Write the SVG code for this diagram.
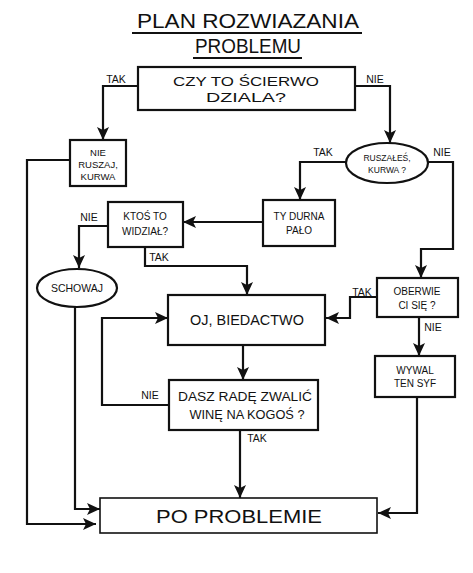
<svg xmlns="http://www.w3.org/2000/svg" width="473" height="573" viewBox="0 0 473 573">
<style>
text{font-family:"Liberation Sans","DejaVu Sans",sans-serif;fill:#111;text-anchor:middle}
.n{font-size:10px}
.lb{font-size:10.5px}
.box{fill:#fff;stroke:#111;stroke-width:2.2}
.c path{fill:none;stroke:#111;stroke-width:2.2;stroke-linejoin:miter}
</style>
<defs>
<marker id="a" markerUnits="userSpaceOnUse" markerWidth="14" markerHeight="12" refX="13" refY="6" orient="auto">
<path d="M0,0 L13,6 L0,12 L3,6 Z" fill="#111"/>
</marker>
</defs>
<rect width="473" height="573" fill="#fff"/>
<g id="title">
<text x="248" y="28" style="font-size:21px" textLength="222" lengthAdjust="spacingAndGlyphs">PLAN ROZWIAZANIA</text>
<path d="M132,33 H362" stroke="#111" stroke-width="1.8"/>
<text x="248" y="53" style="font-size:21px" textLength="106" lengthAdjust="spacingAndGlyphs">PROBLEMU</text>
<path d="M193,58 H302" stroke="#111" stroke-width="1.8"/>
</g>
<g class="c" id="connectors">
<path d="M138,86 H103 V140" marker-end="url(#a)"/>
<path d="M355,86 H390 V143" marker-end="url(#a)"/>
<path d="M70,160 H27 V524 H96" marker-end="url(#a)"/>
<path d="M346,162 H300 V200" marker-end="url(#a)"/>
<path d="M428,162 H453 V249 H421 V278" marker-end="url(#a)"/>
<path d="M263,222 H183" marker-end="url(#a)"/>
<path d="M108,226 H79 V268" marker-end="url(#a)"/>
<path d="M145,247 V266 H247 V295" marker-end="url(#a)"/>
<path d="M75,307 V509 H100" marker-end="url(#a)"/>
<path d="M377,297 H350 V318 H326" marker-end="url(#a)"/>
<path d="M419,317 V356" marker-end="url(#a)"/>
<path d="M417,397 V513 H378" marker-end="url(#a)"/>
<path d="M243,345 V380" marker-end="url(#a)"/>
<path d="M169,405 H102 V318 H168" marker-end="url(#a)"/>
<path d="M240,430 V498" marker-end="url(#a)"/>
</g>
<g id="labels" class="lb">
<text x="116" y="83">TAK</text>
<text x="375" y="83">NIE</text>
<text x="323" y="156">TAK</text>
<text x="442" y="156">NIE</text>
<text x="89" y="221">NIE</text>
<text x="159" y="261">TAK</text>
<text x="362" y="296">TAK</text>
<text x="433" y="331">NIE</text>
<text x="150" y="399">NIE</text>
<text x="257" y="442">TAK</text>
</g>
<g id="n1">
<rect class="box" x="138" y="67" width="217" height="43"/>
<text x="246" y="86" style="font-size:13px" textLength="146" lengthAdjust="spacingAndGlyphs">CZY TO ŚCIERWO</text>
<text x="246" y="102" style="font-size:13px" textLength="80" lengthAdjust="spacingAndGlyphs">DZIALA?</text>
</g>
<g id="n2">
<rect class="box" x="70" y="140" width="56" height="46"/>
<text class="n" x="98" y="156" style="font-size:9.5px">NIE</text>
<text class="n" x="98" y="168" style="font-size:9.5px">RUSZAJ,</text>
<text class="n" x="98" y="180" style="font-size:9.5px">KURWA</text>
</g>
<g id="n3">
<ellipse class="box" cx="387" cy="163" rx="41" ry="20"/>
<text x="387" y="161" style="font-size:8.5px">RUSZAŁEŚ,</text>
<text x="387" y="173" style="font-size:8.5px">KURWA ?</text>
</g>
<g id="n4">
<rect class="box" x="263" y="200" width="72" height="46"/>
<text class="n" x="299" y="220">TY DURNA</text>
<text class="n" x="299" y="234">PAŁO</text>
</g>
<g id="n5">
<rect class="box" x="108" y="202" width="75" height="45"/>
<text class="n" x="145" y="220">KTOŚ TO</text>
<text class="n" x="145" y="235">WIDZIAŁ?</text>
</g>
<g id="n6">
<ellipse class="box" cx="77" cy="288" rx="40" ry="19"/>
<text x="77" y="292" style="font-size:10.5px">SCHOWAJ</text>
</g>
<g id="n7">
<rect class="box" x="168" y="295" width="157" height="50"/>
<text x="247" y="325" style="font-size:15px" textLength="114" lengthAdjust="spacingAndGlyphs">OJ, BIEDACTWO</text>
</g>
<g id="n8">
<rect class="box" x="377" y="278" width="81" height="39"/>
<text class="n" x="417" y="295">OBERWIE</text>
<text class="n" x="417" y="309">CI SIĘ ?</text>
</g>
<g id="n9">
<rect class="box" x="375" y="356" width="80" height="41"/>
<text class="n" x="415" y="374">WYWAL</text>
<text class="n" x="415" y="387">TEN SYF</text>
</g>
<g id="n10">
<rect class="box" x="169" y="380" width="149" height="50"/>
<text x="245" y="401" style="font-size:12px" textLength="134" lengthAdjust="spacingAndGlyphs">DASZ RADĘ ZWALIĆ</text>
<text x="247" y="419" style="font-size:12px" textLength="115" lengthAdjust="spacingAndGlyphs">WINĘ NA KOGOŚ ?</text>
</g>
<g id="n11">
<rect class="box" x="100" y="498" width="277" height="35" style="stroke-width:1.6"/>
<text x="239" y="523" style="font-size:18px" textLength="166" lengthAdjust="spacingAndGlyphs">PO PROBLEMIE</text>
</g>
</svg>
